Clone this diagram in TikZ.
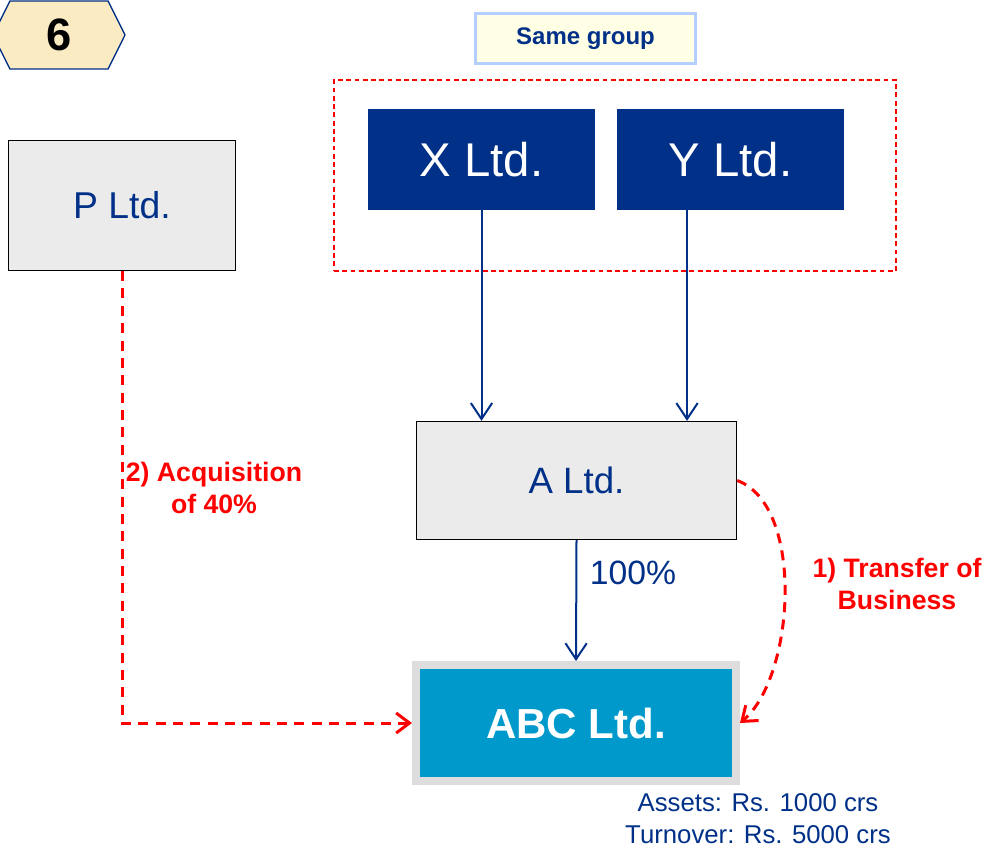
\documentclass[tikz,border=0pt]{standalone}
\usepackage{fontspec}
\setmainfont{Liberation Sans}
\usetikzlibrary{arrows.meta, positioning, shapes.symbols}
\definecolor{azulOscuro}{HTML}{003087}
\definecolor{azulCian}{HTML}{0099CC}
\definecolor{grisClaro}{HTML}{EBEBEB}
\definecolor{grisMarco}{HTML}{DDDDDD}
\definecolor{rojoVivo}{HTML}{FF0000}
\definecolor{cremaInsignia}{HTML}{FAEBC3}
\definecolor{azulPalido}{HTML}{B4CEFF}
\definecolor{cremaClaro}{HTML}{FFFFE6}
\tikzset{
  cajaBase/.style={rectangle, inner sep=0pt, align=center},
  cajaGris/.style={cajaBase, draw=black, line width=1pt, fill=grisClaro,
    text=azulOscuro, font=\fontsize{27.5}{32}\selectfont},
  cajaAzul/.style={cajaBase, fill=azulOscuro, text=white,
    minimum width=170.25pt, minimum height=75.75pt, font=\fontsize{35.5}{40}\selectfont},
  cajaCian/.style={cajaBase, draw=grisMarco, line width=6pt, fill=azulCian, text=white,
    minimum width=240pt, minimum height=87pt, font=\bfseries\fontsize{31.5}{36}\selectfont},
  cajaGrupo/.style={cajaBase, draw=rojoVivo, line width=1.2pt, dash pattern=on 3.6pt off 2.6pt,
    minimum width=421.5pt, minimum height=143.25pt},
  cajaNota/.style={cajaBase, draw=azulPalido, line width=2.25pt, fill=cremaClaro, text=azulOscuro,
    minimum width=165pt, minimum height=37.5pt, font=\bfseries\fontsize{18}{22}\selectfont},
  insignia/.style={signal, signal to=east and west, signal pointer angle=127,
    draw=azulOscuro, line width=1pt, fill=cremaInsignia, minimum width=99pt, minimum height=51pt,
    inner sep=0pt, font=\bfseries\fontsize{34}{40}\selectfont},
  flechaAzul/.style={-{Straight Barb[length=12pt, width=16pt]}, line width=1.5pt, azulOscuro},
  flechaRoja/.style={-{Straight Barb[length=10pt, width=15pt]}, line width=2.25pt, rojoVivo,
    dash pattern=on 7.5pt off 5.5pt},
  etiquetaRoja/.style={text=rojoVivo, font=\bfseries\fontsize{20}{24}\selectfont, align=center, inner sep=0pt},
  etiquetaAzul/.style={text=azulOscuro, align=center, inner sep=0pt},
}
\begin{document}
\begin{tikzpicture}[x=0.75pt, y=-0.75pt]
  \useasboundingbox (0,0) rectangle (984,848);
  \node[insignia] (badge) at (59,35) {6};
  \node[cajaNota] (nota) at (585.5,38.5) {Same group};
  \node[cajaGrupo] (grupo) at (615,175.5) {};
  \node[cajaAzul] (x) at (481.5,159.5) {X Ltd.};
  \node[cajaAzul] (y) at (730.5,159.5) {Y Ltd.};
  \node[cajaGris, minimum width=170pt, minimum height=97.5pt, font=\fontsize{28}{32}\selectfont] (p) at (122,205.5) {P Ltd.};
  \node[cajaGris, minimum width=240pt, minimum height=88.5pt] (a) at (576.5,480.5) {A Ltd.};
  \node[cajaCian] (abc) at (576,723) {ABC Ltd.};
  \node[etiquetaAzul, font=\fontsize{25.3}{30}\selectfont] (pct) at (633,573) {100\%};
  \node[etiquetaRoja] (adq) at (214,488) {2) Acquisition\\of 40\%};
  \node[etiquetaRoja] (trans) at (897,584) {1) Transfer of\\Business};
  \node[etiquetaAzul, font=\fontsize{19.3}{24}\selectfont] (datos) at (758,819)
    {Assets: Rs. 1000 crs\\Turnover: Rs. 5000 crs};
  \draw[flechaAzul] (x.south) -- (x.south |- a.north);
  \draw[flechaAzul] ([xshift=-32.6pt]y.south) -- ([xshift=-32.6pt]y.south |- a.north);
  \draw[flechaAzul] (a.south) -- (abc.north);
  \draw[flechaRoja] (p.south) |- (abc.west);
  \draw[flechaRoja] (a.east) .. controls ([shift={(68,25)}]a.east)
    and ([shift={(55,-46)}]abc.east) .. (abc.east);
\end{tikzpicture}
\end{document}
